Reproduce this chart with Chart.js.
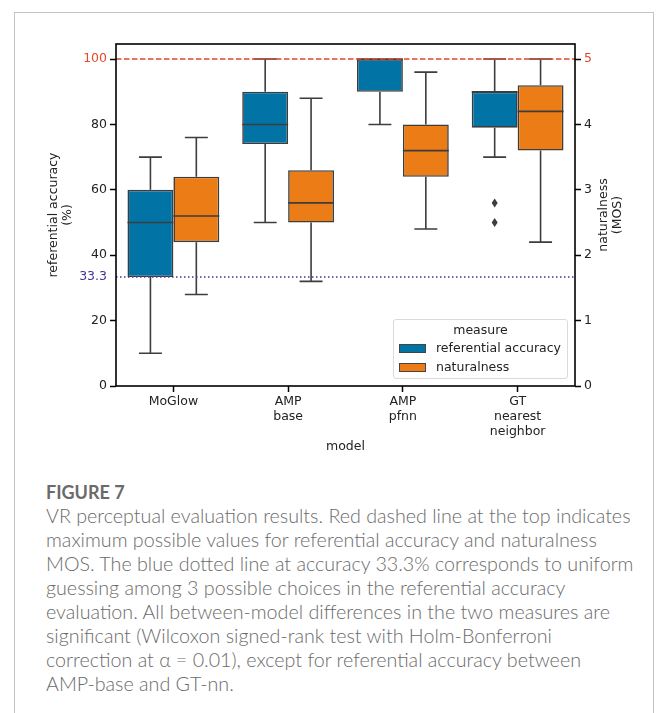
<!DOCTYPE html>
<html>
<head>
<meta charset="utf-8">
<script src="https://cdn.jsdelivr.net/npm/chart.js@4/dist/chart.umd.min.js"></script>
<style>
html,body{margin:0;padding:0;background:#fff;}
body{width:656px;height:713px;position:relative;overflow:hidden;}
#frame{position:absolute;left:14px;top:12px;width:638px;height:720px;border:1px solid #c4c4c4;border-bottom:none;}
#wrap{position:absolute;left:0;top:0;width:656px;height:470px;}
#legend{position:absolute;left:393px;top:319px;width:175px;height:60px;border:1px solid #dadada;border-radius:3px;background:rgba(255,255,255,0.85);font-family:"DejaVu Sans";font-size:12.5px;color:#222;box-sizing:border-box;}
#legend .t{position:absolute;left:0;right:0;top:2px;text-align:center;line-height:16px;}
#legend .p{position:absolute;left:5px;width:27px;height:9px;border:1px solid #444;box-sizing:border-box;}
#legend .l{position:absolute;left:42px;line-height:16px;white-space:nowrap;}
#caption{position:absolute;left:46px;top:480px;font-family:Lato,"Open Sans",sans-serif;font-weight:300;color:#6b6b6b;font-size:19.7px;line-height:24px;white-space:nowrap;}
#caption .fig{font-weight:bold;color:#6a6a6a;font-size:18px;}
</style>
</head>
<body>
<div id="frame"></div>
<div id="wrap"><canvas id="c" width="656" height="470"></canvas></div>
<div id="legend">
  <div class="t">measure</div>
  <div class="p" style="top:24px;background:#0173a5;"></div><div class="l" style="top:20px;">referential accuracy</div>
  <div class="p" style="top:43px;background:#ec7d16;"></div><div class="l" style="top:39px;">naturalness</div>
</div>
<div id="caption"><span class="fig">FIGURE 7</span><br>VR perceptual evaluation results. Red dashed line at the top indicates<br>maximum possible values for referential accuracy and naturalness<br>MOS. The blue dotted line at accuracy 33.3% corresponds to uniform<br>guessing among 3 possible choices in the referential accuracy<br>evaluation. All between-model differences in the two measures are<br>significant (Wilcoxon signed-rank test with Holm-Bonferroni<br>correction at α = 0.01), except for referential accuracy between<br>AMP-base and GT-nn.</div>
<script>
// ---- data ----
const categories = [['MoGlow'], ['AMP', 'base'], ['AMP', 'pfnn'], ['GT', 'nearest', 'neighbor']];
// referential accuracy (%)
const refLow  = [10, 50, 80, 70];
const refQ1   = [33.3, 74, 90, 79];
const refMed  = [50, 80, 100, 90];
const refQ3   = [60, 90, 100, 90];
const refHigh = [70, 100, 100, 100];
const refOutliers = [[], [], [], [56, 50]];
// naturalness (MOS)
const natLow  = [1.4, 1.6, 2.4, 2.2];
const natQ1   = [2.2, 2.5, 3.2, 3.6];
const natMed  = [2.6, 2.8, 3.6, 4.2];
const natQ3   = [3.2, 3.3, 4.0, 4.6];
const natHigh = [3.8, 4.4, 4.8, 5.0];
const natOutliers = [[], [], [], []];
// tick labels
const refTicks = [0, 20, 33.3, 40, 60, 80, 100];
const natTicks = [0, 1, 2, 3, 4, 5];
const maxRef = 100, chanceRef = 33.3;

const BLUE = '#0173a5', ORANGE = '#ec7d16', EDGE = '#3d3d3d';
const RED = '#e6472b', PURPLE = '#40359a', TXT = '#222';
const FONT = {family: 'DejaVu Sans', size: 12.5};

function tickCol(c, special) {
  const v = c.tick ? c.tick.value : null;
  if (v === special) return RED;
  if (v === chanceRef) return PURPLE;
  return TXT;
}

const boxPlugin = {
  id: 'boxes',
  afterDatasetsDraw(chart) {
    const c = chart.ctx, ca = chart.chartArea;
    const sets = [
      {low: refLow, q1: refQ1, med: refMed, q3: refQ3, high: refHigh, out: refOutliers, axis: 'y'},
      {low: natLow, q1: natQ1, med: natMed, q3: natQ3, high: natHigh, out: natOutliers, axis: 'y2'}
    ];
    c.save();
    sets.forEach((s, d) => {
      const meta = chart.getDatasetMeta(d);
      const ys = chart.scales[s.axis];
      meta.data.forEach((bar, i) => {
        const x = bar.x, w = bar.width;
        const p = v => ys.getPixelForValue(v);
        c.strokeStyle = EDGE; c.lineWidth = 1.6; c.lineCap = 'butt';
        c.beginPath();
        c.moveTo(x, p(s.q3[i])); c.lineTo(x, p(s.high[i]));
        c.moveTo(x, p(s.q1[i])); c.lineTo(x, p(s.low[i]));
        c.moveTo(x - w / 4, p(s.high[i])); c.lineTo(x + w / 4, p(s.high[i]));
        c.moveTo(x - w / 4, p(s.low[i])); c.lineTo(x + w / 4, p(s.low[i]));
        c.moveTo(x - w / 2, p(s.med[i])); c.lineTo(x + w / 2, p(s.med[i]));
        c.stroke();
        c.fillStyle = EDGE;
        s.out[i].forEach(v => {
          const y = p(v);
          c.beginPath();
          c.moveTo(x, y - 4.5); c.lineTo(x + 3, y); c.lineTo(x, y + 4.5); c.lineTo(x - 3, y);
          c.closePath(); c.fill();
        });
      });
    });
    const yS = chart.scales.y;
    // red dashed max line
    c.strokeStyle = RED; c.lineWidth = 1.5; c.setLineDash([5.5, 2.5]);
    c.beginPath(); c.moveTo(ca.left, yS.getPixelForValue(maxRef)); c.lineTo(ca.right, yS.getPixelForValue(maxRef)); c.stroke();
    // chance dotted line
    c.strokeStyle = PURPLE; c.setLineDash([1.5, 2.5]);
    c.beginPath(); c.moveTo(ca.left, yS.getPixelForValue(chanceRef)); c.lineTo(ca.right, yS.getPixelForValue(chanceRef)); c.stroke();
    c.setLineDash([]);
    // spines
    c.strokeStyle = '#000'; c.lineWidth = 1.6;
    c.strokeRect(ca.left, ca.top, ca.right - ca.left, ca.bottom - ca.top);
    // axis titles
    c.fillStyle = TXT; c.font = '12.5px "DejaVu Sans"'; c.textAlign = 'center'; c.textBaseline = 'middle';
    const cy = (ca.top + ca.bottom) / 2;
    c.save(); c.translate(54, cy); c.rotate(-Math.PI / 2); c.fillText('referential accuracy', 0, 0); c.restore();
    c.save(); c.translate(68, cy); c.rotate(-Math.PI / 2); c.fillText('(%)', 0, 0); c.restore();
    c.save(); c.translate(604, cy); c.rotate(-Math.PI / 2); c.fillText('naturalness', 0, 0); c.restore();
    c.save(); c.translate(618, cy); c.rotate(-Math.PI / 2); c.fillText('(MOS)', 0, 0); c.restore();
    c.fillText('model', (ca.left + ca.right) / 2, 447);
    c.restore();
  }
};

new Chart(document.getElementById('c'), {
  type: 'bar',
  data: {
    labels: categories,
    datasets: [
      {label: 'referential accuracy', data: refQ1.map((v, i) => [v, refQ3[i]]), yAxisID: 'y',
       backgroundColor: BLUE, borderColor: EDGE, borderWidth: 1.6, borderSkipped: false},
      {label: 'naturalness', data: natQ1.map((v, i) => [v, natQ3[i]]), yAxisID: 'y2',
       backgroundColor: ORANGE, borderColor: EDGE, borderWidth: 1.6, borderSkipped: false}
    ]
  },
  options: {
    responsive: false, animation: false,
    layout: {padding: {top: 44, left: 0, right: 0, bottom: 0}},
    datasets: {bar: {categoryPercentage: 0.8, barPercentage: 1}},
    plugins: {legend: {display: false}, tooltip: {enabled: false}},
    scales: {
      x: {
        grid: {offset: false, drawOnChartArea: false, color: '#000', tickLength: 6, tickWidth: 1.5},
        border: {display: false},
        ticks: {font: FONT, color: TXT, padding: 2, maxRotation: 0, autoSkip: false, lineHeight: 1.16},
        afterFit(s) { s.height = 84; }
      },
      y: {
        position: 'left', min: 0, max: 104.6,
        afterBuildTicks(s) { s.ticks = refTicks.map(v => ({value: v})); },
        ticks: {font: FONT, padding: 3, color: c => tickCol(c, 100), callback: v => (v === chanceRef ? '33.3' : String(v))},
        grid: {drawOnChartArea: false, tickLength: 6, tickWidth: 1.5, tickColor: c => (c.tick && c.tick.value === chanceRef ? 'rgba(0,0,0,0)' : '#000'), color: '#000'},
        border: {display: false},
        afterFit(s) { s.width = 116; }
      },
      y2: {
        position: 'right', min: 0, max: 5.23,
        afterBuildTicks(s) { s.ticks = natTicks.map(v => ({value: v})); },
        ticks: {font: FONT, padding: 3, color: c => tickCol(c, 5), callback: v => String(v)},
        grid: {drawOnChartArea: false, tickLength: 6, tickWidth: 1.5, color: '#000'},
        border: {display: false},
        afterFit(s) { s.width = 81; }
      }
    }
  },
  plugins: [boxPlugin]
});
</script>
</body>
</html>
